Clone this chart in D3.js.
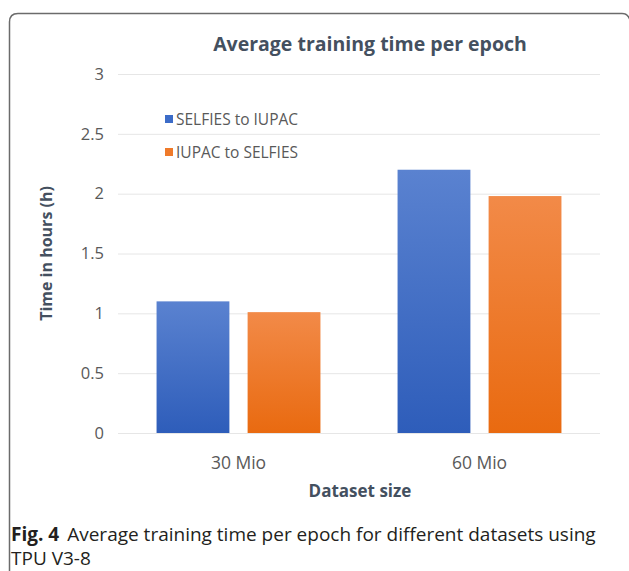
<!DOCTYPE html>
<html><head><meta charset="utf-8">
<script src="https://cdn.jsdelivr.net/npm/d3@7"></script>
<style>
html,body{margin:0;padding:0;background:#fff;}
svg{display:block;}
</style></head>
<body>
<svg id="chart" width="629" height="571"></svg>
<script>
const categories = ["30 Mio", "60 Mio"];
const seriesNames = ["SELFIES to IUPAC", "IUPAC to SELFIES"];
const selfiesToIupac = [1.1, 2.2];
const iupacToSelfies = [1.01, 1.98];
const yTicks = [0, 0.5, 1, 1.5, 2, 2.5, 3];
const title = "Average training time per epoch";
const xTitle = "Dataset size";
const yTitle = "Time in hours (h)";
const captionBold = "Fig. 4";
const captionLine1 = "Average training time per epoch for different datasets using";
const captionLine2 = "TPU V3-8";

const svg = d3.select("#chart");
const font = "'Open Sans', sans-serif";

// frame
svg.append("path")
  .attr("d", "M9.5,571 L9.5,22 Q9.5,13.5 18,13.5 L622,13.5 Q628,13.5 630,20")
  .attr("fill","none").attr("stroke","#6b6b6b").attr("stroke-width",1.5);

const defs = svg.append("defs");
const gradB = defs.append("linearGradient").attr("id","gB").attr("x1",0).attr("y1",0).attr("x2",0).attr("y2",1);
gradB.append("stop").attr("offset","0%").attr("stop-color","#5a82d0");
gradB.append("stop").attr("offset","100%").attr("stop-color","#2e5dba");
const gradO = defs.append("linearGradient").attr("id","gO").attr("x1",0).attr("y1",0).attr("x2",0).attr("y2",1);
gradO.append("stop").attr("offset","0%").attr("stop-color","#f28a48");
gradO.append("stop").attr("offset","100%").attr("stop-color","#e96a10");
const fills = ["url(#gB)", "url(#gO)"];
const legendColors = ["#3c6cc8", "#ef7a2a"];

const plot = {left:118, right:600, top:74, bottom:433};

const y = d3.scaleLinear().domain([0,3]).range([plot.bottom, plot.top]);
const x0 = d3.scaleBand().domain(categories).range([plot.left, plot.right]).paddingInner(0.32).paddingOuter(0.16);
const x1 = d3.scaleBand().domain(seriesNames).range([0, x0.bandwidth()]).paddingInner(0.2);

// gridlines
const yAxis = d3.axisLeft(y).tickValues(yTicks).tickSize(-(plot.right-plot.left)).tickFormat(d3.format("~g")).tickPadding(14);
const gy = svg.append("g").attr("transform",`translate(${plot.left},0)`).call(yAxis);
gy.select(".domain").remove();
gy.selectAll(".tick line").attr("stroke","#e6e6e6").attr("stroke-width",1);
gy.selectAll(".tick text").attr("fill","#595959").attr("font-size",16.5).attr("font-family",font);

// bars
const data = categories.map((c,i)=>({cat:c, vals:[selfiesToIupac[i], iupacToSelfies[i]]}));
const groups = svg.append("g").selectAll("g").data(data).join("g")
  .attr("transform", d=>`translate(${x0(d.cat)},0)`);
groups.selectAll("rect").data(d=>d.vals.map((v,j)=>({v, s:seriesNames[j], j})))
  .join("rect")
  .attr("x", d=>x1(d.s))
  .attr("width", x1.bandwidth())
  .attr("y", d=>y(d.v))
  .attr("height", d=>y(0)-y(d.v))
  .attr("fill", d=>fills[d.j]);

// x axis labels
const xAxis = d3.axisBottom(x0).tickSize(0).tickPadding(24);
const gx = svg.append("g").attr("transform",`translate(0,${plot.bottom})`).call(xAxis);
gx.select(".domain").remove();
gx.selectAll(".tick text").attr("fill","#595959").attr("font-size",17.5).attr("font-family",font);

// title
svg.append("text").attr("x",370).attr("y",51).attr("text-anchor","middle")
  .attr("font-family",font).attr("font-weight","bold").attr("font-size",19.5).attr("fill","#44505f").text(title);

// axis titles
svg.append("text").attr("x",360).attr("y",497).attr("text-anchor","middle")
  .attr("font-family",font).attr("font-weight","bold").attr("font-size",17).attr("fill","#44505f").text(xTitle);
svg.append("text").attr("transform",`translate(52,${(plot.top+plot.bottom)/2}) rotate(-90)`).attr("text-anchor","middle")
  .attr("font-family",font).attr("font-weight","bold").attr("font-size",16).attr("fill","#44505f").text(yTitle);

// legend
const lg = svg.append("g").selectAll("g").data(seriesNames).join("g")
  .attr("transform",(d,i)=>`translate(165,${125 + i*33})`);
lg.append("rect").attr("x",0).attr("y",-10).attr("width",8).attr("height",8).attr("fill",(d,i)=>legendColors[i]);
lg.append("text").attr("x",11).attr("y",0).attr("font-family",font).attr("font-size",15.5).attr("fill","#595959").text(d=>d);

// caption
const cap = svg.append("text").attr("x",11).attr("y",541).attr("font-family",font).attr("font-size",19).attr("fill","#231f20");
cap.append("tspan").attr("font-weight","bold").text(captionBold);
cap.append("tspan").attr("dx",8).text(captionLine1);
svg.append("text").attr("x",11).attr("y",565).attr("font-family",font).attr("font-size",19).attr("fill","#231f20").text(captionLine2);
</script>
</body></html>
